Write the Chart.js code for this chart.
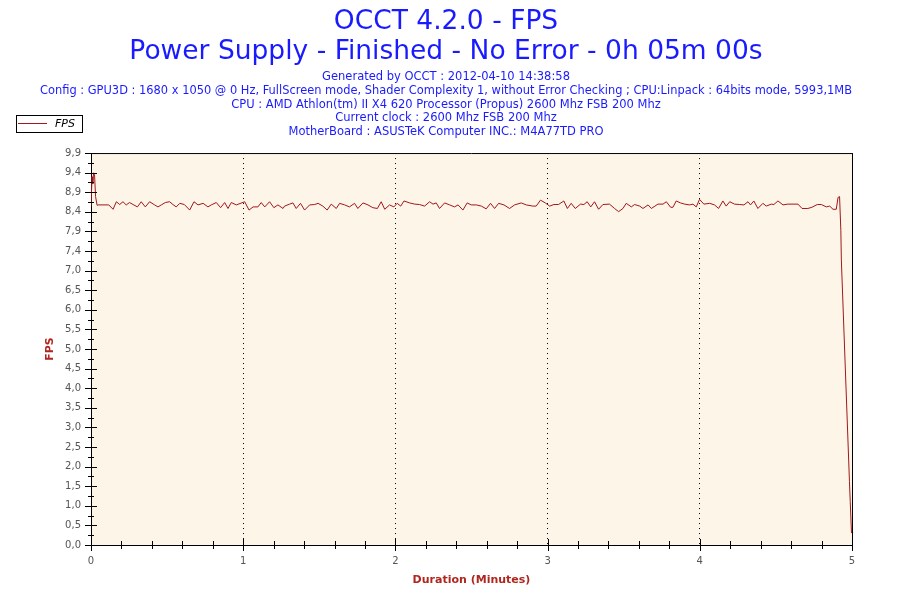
<!DOCTYPE html>
<html>
<head>
<meta charset="utf-8">
<script src="https://cdn.jsdelivr.net/npm/chart.js@4.4.0/dist/chart.umd.min.js"></script>
<style>
  html, body { margin: 0; padding: 0; background: #fff; }
  #wrap { width: 900px; height: 600px; }
</style>
</head>
<body>
<div id="wrap"><canvas id="fpsChart" width="900" height="600"></canvas></div>
<script>
// Chart data (time in seconds, FPS values)
const titleLines = ['OCCT 4.2.0 - FPS', 'Power Supply - Finished - No Error - 0h 05m 00s'];
const infoLines = [
  'Generated by OCCT : 2012-04-10 14:38:58',
  'Config : GPU3D : 1680 x 1050 @ 0 Hz, FullScreen mode, Shader Complexity 1, without Error Checking ; CPU:Linpack : 64bits mode, 5993,1MB',
  'CPU : AMD Athlon(tm) II X4 620 Processor (Propus) 2600 Mhz FSB 200 Mhz',
  'Current clock : 2600 Mhz FSB 200 Mhz',
  'MotherBoard : ASUSTeK Computer INC.: M4A77TD PRO'
];
const seriesName = 'FPS';
const xTickLabels = ['0', '1', '2', '3', '4', '5'];
const yTickLabels = ['0,0', '0,5', '1,0', '1,5', '2,0', '2,5', '3,0', '3,5', '4,0', '4,5', '5,0',
  '5,5', '6,0', '6,5', '7,0', '7,4', '7,9', '8,4', '8,9', '9,4', '9,9'];

const timeSec = [
  0, 0.4, 0.7, 1.0, 1.4, 1.8, 2.4,
  2.8, 7.0, 8.7, 10.0, 11.3, 12.6, 13.9, 15.2, 16.6, 18.3, 19.8, 21.4, 23.1, 25.1, 26.4, 27.7,
  29.3, 31.0, 32.3, 33.6, 35.0, 36.8, 38.9, 40.6, 42.2, 44.2, 46.1, 47.4, 49.4, 51.1, 52.7, 54.0,
  55.3, 57.3, 60.6, 62.3, 63.9, 65.8, 67.1, 68.5, 70.4, 72.1, 73.7, 75.7,
  76.3, 78.3, 79.6, 80.9, 82.6, 84.2, 86.2, 88.2, 89.5, 91.4, 93.1, 94.7, 96.7, 98.0, 100.0,
  101.9, 103.9, 105.2, 107.2, 109.2, 111.1, 112.9, 114.4, 115.8, 117.7, 119.4, 120.7, 122.1,
  123.4, 125.6, 127.6, 129.5, 131.5, 133.5, 134.8, 136.1, 137.4, 139.4, 141.4, 143.3, 144.7,
  146.6, 148.3, 149.9,
  151.9, 153.9, 155.8, 157.5, 159.1, 160.7, 162.8, 165.0, 167.0, 169.6, 171.6, 174.2, 175.5,
  177.2, 179.1, 180.8, 182.5, 184.3, 186.4, 187.8, 189.3, 190.9, 193.0, 194.3, 195.6, 197.0,
  198.5, 200.1, 201.8, 204.4, 206.4, 208.0, 209.7, 211.0, 213.0, 214.3, 216.3, 217.6, 219.6,
  220.9, 223.5, 225.5,
  226.8, 228.5, 229.4, 230.7, 232.4, 234.0, 236.0, 237.3, 238.6, 239.9, 241.6, 243.9, 245.8,
  247.4, 249.1, 250.4, 251.8, 253.7, 255.7, 257.4, 259.0, 260.0, 261.3, 262.9, 264.9, 266.2,
  268.2, 269.2, 270.8, 272.8, 274.7, 278.7, 280.3, 282.6, 284.2, 286.3, 287.9, 289.9, 291.2,
  292.5, 293.8, 294.5, 295.1,
  295.6, 295.8, 299.0, 299.3, 299.8
];
const fps = [
  8.55, 9.30, 9.12, 9.40, 9.35, 8.80, 8.58,
  8.59, 8.59, 8.48, 8.67, 8.60, 8.67, 8.59, 8.65, 8.60, 8.54, 8.67, 8.54, 8.67, 8.59, 8.54, 8.59,
  8.65, 8.67, 8.60, 8.54, 8.63, 8.60, 8.46, 8.67, 8.59, 8.63, 8.54, 8.59, 8.65, 8.52, 8.65, 8.50,
  8.65, 8.59, 8.67, 8.46, 8.54, 8.54, 8.65, 8.54, 8.67, 8.52, 8.59, 8.50,
  8.56, 8.61, 8.64, 8.50, 8.63, 8.46, 8.59, 8.60, 8.63, 8.56, 8.46, 8.61, 8.50, 8.63, 8.59,
  8.54, 8.63, 8.50, 8.64, 8.59, 8.52, 8.50, 8.67, 8.48, 8.59, 8.54, 8.63, 8.56,
  8.69, 8.64, 8.61, 8.60, 8.56, 8.67, 8.61, 8.64, 8.50, 8.64, 8.59, 8.54, 8.59,
  8.46, 8.64, 8.59,
  8.59, 8.56, 8.49, 8.63, 8.50, 8.63, 8.59, 8.50, 8.59, 8.64, 8.59, 8.56, 8.56,
  8.71, 8.64, 8.56, 8.60, 8.60, 8.69, 8.50, 8.63, 8.50, 8.61, 8.60, 8.67, 8.54,
  8.67, 8.48, 8.60, 8.61, 8.50, 8.42, 8.50, 8.63, 8.54, 8.60, 8.56, 8.50, 8.59,
  8.50, 8.61, 8.61,
  8.67, 8.53, 8.53, 8.69, 8.64, 8.61, 8.59, 8.61, 8.54, 8.73, 8.61, 8.63, 8.59,
  8.50, 8.69, 8.56, 8.67, 8.61, 8.60, 8.59, 8.67, 8.59, 8.69, 8.50, 8.63, 8.56,
  8.61, 8.60, 8.69, 8.59, 8.61, 8.61, 8.50, 8.50, 8.53, 8.60, 8.60, 8.54, 8.56,
  8.48, 8.48, 8.78, 8.80,
  7.95, 7.20, 1.60, 1.10, 0.30
];

const lineColor = '#a3161b';
const titleBlue = '#1a1aff';
const axisRed = '#b0261e';
const plotBg = '#fdf6e8';

Chart.defaults.font.family = '"DejaVu Sans", Verdana, sans-serif';

// plot background, frame, tick marks and legend box
const decor = {
  id: 'decor',
  beforeDraw(chart) {
    const { ctx, chartArea: a } = chart;
    ctx.save();
    ctx.fillStyle = plotBg;
    ctx.fillRect(a.left, a.top, a.right - a.left, a.bottom - a.top);
    ctx.restore();
  },
  afterDraw(chart) {
    const { ctx, chartArea: a, scales } = chart;
    const xs = scales.x, ys = scales.y;
    ctx.save();
    ctx.strokeStyle = '#000';
    ctx.lineWidth = 1;
    ctx.beginPath();
    ctx.moveTo(a.left, a.top + 0.5); ctx.lineTo(a.right, a.top + 0.5);
    ctx.moveTo(a.right + 0.5, a.top); ctx.lineTo(a.right + 0.5, a.bottom);
    // y ticks: major + minor
    ys.ticks.forEach((t, i) => {
      const y = Math.round(ys.getPixelForValue(t.value)) + 0.5;
      ctx.moveTo(a.left - 6, y); ctx.lineTo(a.left + 6, y);
      if (i < ys.ticks.length - 1) {
        const ym = Math.round(ys.getPixelForValue((t.value + ys.ticks[i + 1].value) / 2)) + 0.5;
        ctx.moveTo(a.left - 3, ym); ctx.lineTo(a.left + 3, ym);
      }
    });
    // x ticks: major + 4 minor
    xs.ticks.forEach((t, i) => {
      const x = Math.round(xs.getPixelForValue(t.value)) + 0.5;
      ctx.moveTo(x, a.bottom - 6); ctx.lineTo(x, a.bottom + 6);
      if (i < xs.ticks.length - 1) {
        for (let k = 1; k < 5; k++) {
          const xm = Math.round(xs.getPixelForValue(t.value + k / 5)) + 0.5;
          ctx.moveTo(xm, a.bottom - 4); ctx.lineTo(xm, a.bottom + 4);
        }
      }
    });
    ctx.stroke();

    // legend
    ctx.fillStyle = '#fff';
    ctx.fillRect(16, 115, 66, 17);
    ctx.strokeRect(16.5, 115.5, 66, 17);
    ctx.strokeStyle = lineColor;
    ctx.beginPath();
    ctx.moveTo(18, 123.5); ctx.lineTo(47, 123.5);
    ctx.stroke();
    ctx.fillStyle = '#000';
    ctx.font = 'italic 11px "DejaVu Sans", Verdana, sans-serif';
    ctx.textBaseline = 'middle';
    ctx.fillText(seriesName, 55, 124);
    ctx.restore();
  }
};

new Chart(document.getElementById('fpsChart'), {
  type: 'line',
  data: {
    datasets: [{
      label: seriesName,
      data: timeSec.map((t, i) => ({ x: t / 60, y: fps[i] })),
      borderColor: lineColor,
      borderWidth: 1,
      pointRadius: 0,
      tension: 0,
      fill: false
    }]
  },
  options: {
    responsive: false,
    animation: false,
    layout: { padding: { left: 40, right: 48, top: 0, bottom: 10 } },
    plugins: {
      legend: { display: false },
      tooltip: { enabled: false },
      title: {
        display: true,
        text: titleLines,
        color: titleBlue,
        font: { size: 26.5, weight: 'normal', lineHeight: 1.15 },
        padding: { top: 6.5, bottom: 0 }
      },
      subtitle: {
        display: true,
        text: infoLines,
        color: titleBlue,
        font: { size: 11.5, lineHeight: 1.2 },
        padding: { top: 2.6, bottom: 14 }
      }
    },
    scales: {
      x: {
        type: 'linear',
        min: 0,
        max: 5,
        afterFit: s => { s.height = 45; },
        ticks: {
          stepSize: 1,
          color: '#555',
          font: { size: 10 },
          padding: 10,
          maxRotation: 0,
          callback: (v, i) => xTickLabels[i]
        },
        grid: {
          drawTicks: false,
          color: c => (c.tick && c.tick.value > 0 && c.tick.value < 5) ? '#000' : 'rgba(0,0,0,0)',
          lineWidth: 1
        },
        border: { display: true, color: '#000', width: 1, dash: [1, 4] },
        title: {
          display: true,
          text: 'Duration (Minutes)',
          color: axisRed,
          font: { size: 11, weight: 'bold', lineHeight: 1.2 },
          padding: { top: 0, bottom: 3 }
        }
      },
      y: {
        min: 0,
        max: 9.9,
        afterFit: s => { s.width = 51; },
        ticks: {
          stepSize: 0.495,
          color: '#555',
          font: { size: 10 },
          padding: 10,
          callback: (v, i) => yTickLabels[i]
        },
        grid: { display: false, drawTicks: false },
        border: { display: true, color: '#000', width: 1 },
        title: {
          display: true,
          text: 'FPS',
          color: axisRed,
          font: { size: 11, weight: 'bold', lineHeight: 1.2 },
          padding: { top: 4, bottom: 0 }
        }
      }
    }
  },
  plugins: [decor]
});
</script>
</body>
</html>
